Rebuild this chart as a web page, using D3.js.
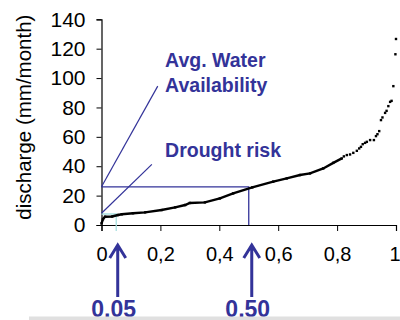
<!DOCTYPE html>
<html>
<head>
<meta charset="utf-8">
<script src="https://cdn.jsdelivr.net/npm/d3@7"></script>
<style>
  html, body { margin: 0; padding: 0; background: #fff; }
  svg { display: block; }
  text { font-family: Arial, "Liberation Sans", sans-serif; }
</style>
</head>
<body>
<svg id="chart" width="400" height="320"></svg>
<script>
// Flow duration curve: monthly discharge sorted against exceedance fraction
const exceedance = [0, 0.005, 0.012, 0.036, 0.056, 0.069, 0.107, 0.148, 0.204, 0.25, 0.284, 0.30, 0.351,
  0.402, 0.447, 0.512, 0.583, 0.629, 0.674, 0.708, 0.753, 0.787, 0.816, 0.823, 0.833, 0.844,
  0.855, 0.867, 0.875, 0.881, 0.887, 0.895, 0.901, 0.912, 0.925, 0.932, 0.937, 0.943, 0.949,
  0.954, 0.963, 0.968, 0.974, 0.980, 0.985, 0.991, 0.998, 1.0];
const discharge = [1, 4, 5.6, 5.8, 6.8, 7.3, 8.0, 8.6, 10.2, 12, 13.6, 15.0, 15.4,
  18.1, 21.5, 25.6, 29.5, 31.7, 34, 35.1, 38.5, 42.3, 45.3, 46.7, 47.6, 48.0,
  49.1, 50.5, 52.1, 53.2, 55.0, 55.9, 56.6, 57.8, 57.8, 60.5, 61.8, 63.9, 71.4,
  73.2, 76.3, 77.7, 80.9, 83.8, 84.5, 94.5, 116.2, 126.6];

const xTicks = [0, 0.2, 0.4, 0.6, 0.8, 1];
const yTicks = [0, 20, 40, 60, 80, 100, 120, 140];

// Reference levels
const avgWater = 26;      // average water availability
const avgProb = 0.50;
const droughtLevel = 7.5; // drought threshold
const droughtProb = 0.05;

const blue = "#333399";
const cyan = "#a8e0e0";

const svg = d3.select("#chart");
const x = d3.scaleLinear().domain([0, 1]).range([101.5, 396]);
const y = d3.scaleLinear().domain([0, 140]).range([225, 19.3]);

const fmt = d => String(d).replace(".", ",");

// Y axis
const yAxis = svg.append("g").attr("transform", `translate(${x(0)},0)`)
  .call(d3.axisLeft(y).tickValues(yTicks).tickSize(5).tickPadding(11).tickFormat(d => d));
yAxis.select(".domain").attr("stroke", "#000").attr("stroke-width", 1.2);
yAxis.selectAll("text").attr("font-size", 21).attr("fill", "#000")
  .attr("font-family", "Arial, 'Liberation Sans', sans-serif");

// X axis
const xAxis = svg.append("g").attr("transform", `translate(0,${y(0)})`)
  .call(d3.axisBottom(x).tickValues(xTicks).tickSize(6).tickPadding(16).tickFormat(fmt));
xAxis.select(".domain").attr("stroke", "#000").attr("stroke-width", 1.2);
xAxis.selectAll("text").attr("font-size", 20).attr("fill", "#000")
  .attr("font-family", "Arial, 'Liberation Sans', sans-serif");
xAxis.selectAll(".tick line").attr("stroke", "#000");
// keep the last label inside the frame
xAxis.selectAll(".tick text").filter(d => d === 1).attr("dx", -1.5);

// Y axis title
svg.append("text")
  .attr("transform", `translate(31,${(y(0) + y(140)) / 2 - 5}) rotate(-90)`)
  .attr("text-anchor", "middle")
  .attr("font-size", 20.5)
  .attr("fill", "#000")
  .text("discharge (mm/month)");

// Drought threshold guide (light cyan)
svg.append("path")
  .attr("d", `M${x(0)},${y(droughtLevel)}H${x(droughtProb)}V${y(0) + 6}`)
  .attr("fill", "none").attr("stroke", cyan).attr("stroke-width", 1.3);

// Average availability guide
svg.append("path")
  .attr("d", `M${x(0)},${y(avgWater)}H${x(avgProb)}V${y(0)}`)
  .attr("fill", "none").attr("stroke", blue).attr("stroke-width", 1.3);

// Leader lines to the annotations
svg.append("line")
  .attr("x1", x(0)).attr("y1", y(avgWater))
  .attr("x2", x(0.191)).attr("y2", y(94.5))
  .attr("stroke", blue).attr("stroke-width", 1.2);
svg.append("line")
  .attr("x1", x(0)).attr("y1", y(droughtLevel + 0.5))
  .attr("x2", x(0.171)).attr("y2", y(41.3))
  .attr("stroke", blue).attr("stroke-width", 1.2);

// Annotation labels
const ann = svg.append("g").attr("fill", blue).attr("font-weight", "bold").attr("font-size", 19.5);
ann.append("text").attr("x", x(0.216)).attr("y", y(107.6)).text("Avg. Water");
ann.append("text").attr("x", x(0.216)).attr("y", y(90.6)).text("Availability");
ann.append("text").attr("x", x(0.216)).attr("y", y(46.4)).text("Drought risk");

// Curve: dense part drawn as a line, all points as small dots
const pts = exceedance.map((p, i) => ({ p, v: discharge[i] }));
const dense = pts.filter(d => d.p <= 0.82);
svg.append("path")
  .datum(dense)
  .attr("d", d3.line().x(d => x(d.p)).y(d => y(d.v)))
  .attr("fill", "none").attr("stroke", "#000").attr("stroke-width", 2.4);
svg.append("g").selectAll("rect").data(pts).join("rect")
  .attr("x", d => x(d.p) - 1.2).attr("y", d => y(d.v) - 1.2)
  .attr("width", 2.4).attr("height", 2.4).attr("fill", "#000");

// Arrows marking the two exceedance levels
const arrowTop = y(0) + 20, arrowBottom = y(0) + 72;
[droughtProb, avgProb].forEach(p => {
  const cx = x(p) + (p === avgProb ? 3 : 1.5);
  svg.append("path")
    .attr("d", `M${cx},${arrowBottom}V${arrowTop + 1}M${cx - 8},${arrowTop + 13}L${cx},${arrowTop}L${cx + 8},${arrowTop + 13}`)
    .attr("fill", "none").attr("stroke", blue).attr("stroke-width", 3);
  svg.append("text")
    .attr("x", cx - 4).attr("y", 316.5)
    .attr("text-anchor", "middle")
    .attr("fill", blue).attr("font-weight", "bold").attr("font-size", 23)
    .text(p.toFixed(2).replace(".", ","));
});

// Thin grey rule along the bottom edge
svg.append("rect").attr("x", 29).attr("y", 316.5).attr("width", 371).attr("height", 3.5).attr("fill", "#e0e0e0");
</script>
</body>
</html>
